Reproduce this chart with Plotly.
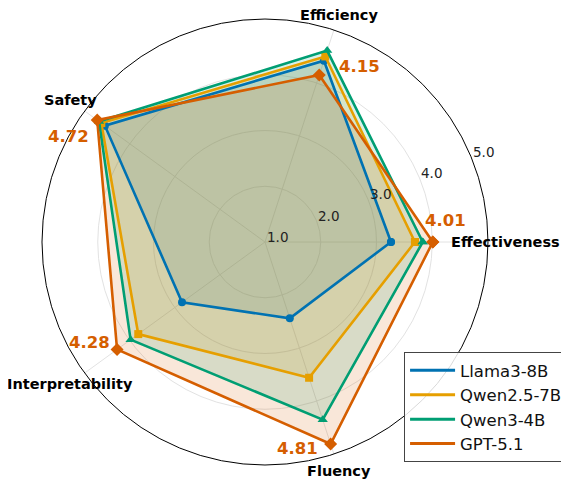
import math
import plotly.graph_objects as go

# ---------------- data ----------------
categories = ["Effectiveness", "Efficiency", "Safety", "Interpretability", "Fluency"]
model_names = ["Llama3-8B", "Qwen2.5-7B", "Qwen3-4B", "GPT-5.1"]
llama3_8b = [3.26, 4.42, 4.55, 2.84, 2.44]
qwen25_7b = [3.69, 4.50, 4.63, 3.81, 3.56]
qwen3_4b = [3.83, 4.61, 4.68, 3.98, 4.35]
gpt_51 = [4.01, 4.15, 4.72, 4.28, 4.81]
radial_ticks = [1.0, 2.0, 3.0, 4.0, 5.0]

# ---------------- styles ----------------
colors = ["#0072B2", "#E69F00", "#009E73", "#D55E00"]
symbols = ["circle", "square", "triangle-up", "diamond"]
marker_sizes = [8, 8, 9, 10]
fill_alpha = 0.15
FONT = "DejaVu Sans"
R_MIN, R_MAX = 1, 5
DOM_X = [0.0606, 0.8556]
DOM_Y = [0.0297, 0.9766]

n = len(categories)
angles = [i * 360.0 / n for i in range(n)]
series = [llama3_8b, qwen25_7b, qwen3_4b, gpt_51]


def rgba(hex_color, a):
    h = hex_color.lstrip("#")
    r, g, b = int(h[0:2], 16), int(h[2:4], 16), int(h[4:6], 16)
    return f"rgba({r},{g},{b},{a})"


def polar_to_paper(r, theta_deg):
    """Map a polar (r, theta) to paper coords using the polar domain/range."""
    cx = (DOM_X[0] + DOM_X[1]) / 2
    cy = (DOM_Y[0] + DOM_Y[1]) / 2
    rx = (DOM_X[1] - DOM_X[0]) / 2
    ry = (DOM_Y[1] - DOM_Y[0]) / 2
    f = (r - R_MIN) / (R_MAX - R_MIN)
    t = math.radians(theta_deg)
    return cx + f * rx * math.cos(t), cy + f * ry * math.sin(t)


fig = go.Figure()

# fills first (below every line)
for name, vals, col in zip(model_names, series, colors):
    fig.add_trace(go.Scatterpolar(
        r=vals + vals[:1], theta=angles + angles[:1],
        mode="lines", fill="toself", fillcolor=rgba(col, fill_alpha),
        line=dict(color=col, width=0), showlegend=False, hoverinfo="skip",
    ))

# lines + markers
for name, vals, col, sym, ms in zip(model_names, series, colors, symbols, marker_sizes):
    fig.add_trace(go.Scatterpolar(
        r=vals + vals[:1], theta=angles + angles[:1],
        mode="lines+markers",
        line=dict(color=col, width=2.6),
        marker=dict(symbol=sym, size=ms, color=col),
        name=name, showlegend=False, hoverinfo="skip",
    ))

# legend-only entries (line only, as in the reference)
for name, col in zip(model_names, colors):
    fig.add_trace(go.Scatterpolar(
        r=[None], theta=[None], mode="lines",
        line=dict(color=col, width=3), name=name, showlegend=True,
    ))

annotations = []

# category labels, centred just outside the outer circle
label_r = 5.32
label_yshift = [0, -2, 0, 0, 0]
for cat, ang, ys in zip(categories, angles, label_yshift):
    x, y = polar_to_paper(label_r, ang)
    annotations.append(dict(
        x=x, y=y, xref="paper", yref="paper", text=f"<b>{cat}</b>", showarrow=False,
        xanchor="center", yanchor="middle", yshift=ys,
        font=dict(family=FONT, size=14.5, color="black"),
    ))

# radial tick labels along 22.5 degrees
tick_angle = 22.5
tick_pad = 0.24
for t in radial_ticks:
    x, y = polar_to_paper(t + tick_pad, tick_angle)
    annotations.append(dict(
        x=x, y=y, xref="paper", yref="paper", text=f"{t:.1f}", showarrow=False,
        xanchor="center", yanchor="middle",
        font=dict(family=FONT, size=13.5, color="#222222"),
    ))

# GPT-5.1 value labels (offsets in polar units)
val_dr = [0.25, 0.42, 0.28, 0.35, -0.07]
val_dtheta = [6.9, -10.3, 7.8, -6.2, -9.1]
for v, ang, dr, dt in zip(gpt_51, angles, val_dr, val_dtheta):
    x, y = polar_to_paper(v + dr, ang + dt)
    annotations.append(dict(
        x=x, y=y, xref="paper", yref="paper", text=f"<b>{v:.2f}</b>", showarrow=False,
        xanchor="center", yanchor="middle",
        font=dict(family=FONT, size=16.5, color="#D55E00"),
    ))

fig.update_layout(
    width=561, height=471,
    margin=dict(l=0, r=0, t=0, b=0),
    paper_bgcolor="white",
    font=dict(family=FONT, color="black"),
    polar=dict(
        domain=dict(x=DOM_X, y=DOM_Y),
        bgcolor="white",
        radialaxis=dict(
            range=[R_MIN, R_MAX], tickvals=[2, 3, 4], showticklabels=False, ticks="",
            showline=False, gridcolor="#e2e2e2", gridwidth=1,
        ),
        angularaxis=dict(
            rotation=0, direction="counterclockwise", thetaunit="degrees",
            tickvals=angles, showticklabels=False, ticks="",
            showline=True, linecolor="black", linewidth=1,
            gridcolor="#e2e2e2", gridwidth=1,
        ),
    ),
    legend=dict(
        x=0.706, y=0.2696, xanchor="left", yanchor="top",
        bgcolor="rgba(255,255,255,0.85)", bordercolor="#444444", borderwidth=1,
        font=dict(family=FONT, size=16.5, color="#111111"),
        itemwidth=45, tracegroupgap=0,
    ),
    annotations=annotations,
)

fig.write_html("out.html")
